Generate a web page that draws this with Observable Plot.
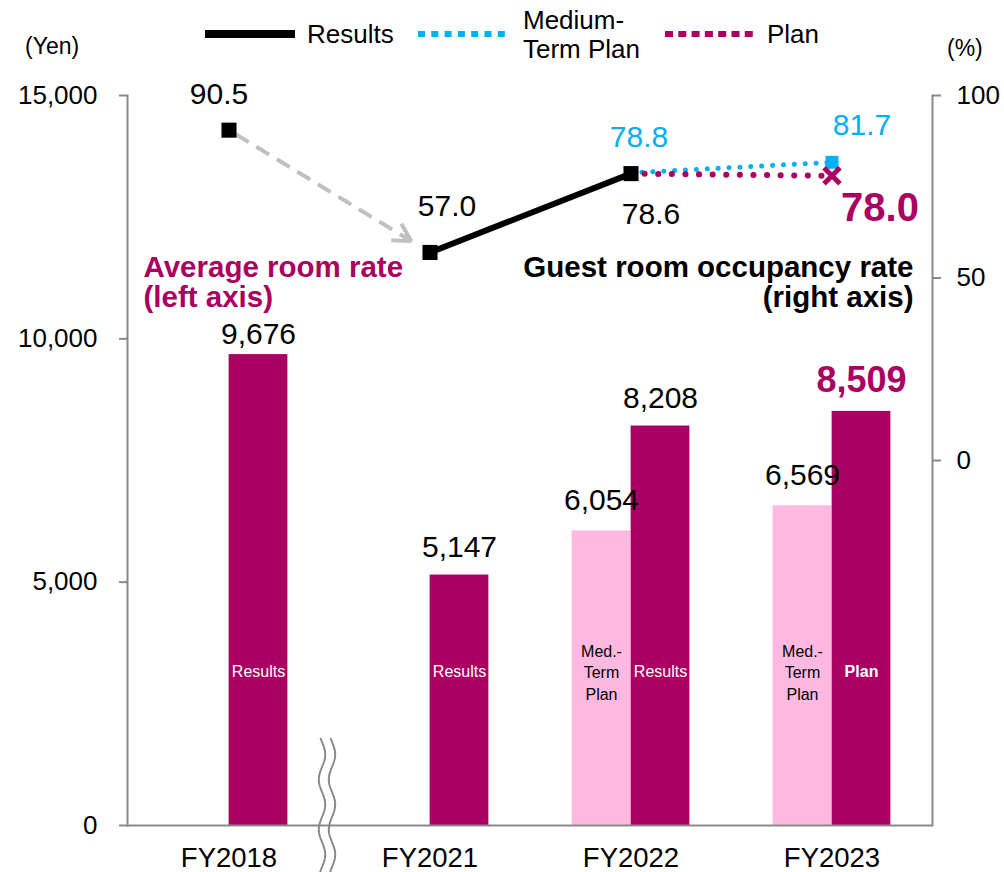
<!DOCTYPE html>
<html><head><meta charset="utf-8">
<script src="https://cdn.jsdelivr.net/npm/d3@7"></script>
<script src="https://cdn.jsdelivr.net/npm/@observablehq/plot@0.6"></script>
<style>
body{margin:0;background:#fff;font-family:"Liberation Sans",Arial,sans-serif;}
#wrap{position:relative;width:1004px;height:872px;overflow:hidden}
#wrap > svg{position:absolute;left:0;top:0}
</style></head><body><div id="wrap"></div>
<script>
// ---- data ----
const categories = ["FY2018", "FY2021", "FY2022", "FY2023"];
const roomRate = [9676, 5147, 8208, 8509];          // dark bars (Results, Results, Results, Plan)
const roomRateMedPlan = [null, null, 6054, 6569];   // pink bars (Medium-Term Plan)
const darkBarKind = ["Results", "Results", "Results", "Plan"];
const occResults = [90.5, 57.0, 78.6, null];
const occMedPlan = [null, null, 78.8, 81.7];
const occPlan = [null, null, 78.6, 78.0];
const leftTicks = [0, 5000, 10000, 15000];
const rightTicks = [0, 50, 100];
const yenDomain = [0, 15000];
const rightDomain = [-100, 100];

// ---- styles ----
const DARK = "#AA0061", PINK = "#FFB8E0", CYAN = "#00B0F0", GRAY = "#898989";
const FONT = "Liberation Sans, Arial, sans-serif";
const W = 1004, H = 872, ML = 127, MR = 72, MT = 95, MB = 47;
const BW = (W - ML - MR) / categories.length;  // band width
const BAR = 59;
const INS0 = 8, INS1 = 22;

const occToYen = v => yenDomain[0] + (v - rightDomain[0]) / (rightDomain[1] - rightDomain[0]) * (yenDomain[1] - yenDomain[0]);
const yenToOcc = y => rightDomain[0] + (y - yenDomain[0]) / (yenDomain[1] - yenDomain[0]) * (rightDomain[1] - rightDomain[0]);

const dark = categories.map((c, i) => ({cat: c, value: roomRate[i], kind: darkBarKind[i]}));
const pink = categories.map((c, i) => ({cat: c, value: roomRateMedPlan[i]})).filter(d => d.value != null);
const rowsOf = arr => categories.map((c, i) => ({cat: c, occ: arr[i], y: arr[i] == null ? null : occToYen(arr[i])})).filter(d => d.occ != null);
const res = rowsOf(occResults), med = rowsOf(occMedPlan), pln = rowsOf(occPlan);
const resSolid = res.filter(d => d.cat !== categories[0]);
const arrowRow = [{a: res[0].cat, ya: res[0].y, b: res[1].cat, yb: res[1].y}];
const f1 = d3.format(".1f"), fc = d3.format(",");

function build(shaftLen) {
  return {
    width: W, height: H, marginLeft: ML, marginRight: MR, marginTop: MT, marginBottom: MB,
    style: {fontFamily: FONT, color: "#000", background: "transparent"},
    x: {type: "band", domain: categories, padding: 0, axis: null},
    y: {domain: yenDomain, axis: null},
    marks: [
      Plot.barY(pink, {x: "cat", y: "value", fill: PINK, insetLeft: BW / 2 - BAR, insetRight: BW / 2}),
      Plot.barY(dark, {x: "cat", y: "value", fill: DARK, insetLeft: BW / 2, insetRight: BW / 2 - BAR}),
      Plot.ruleY([0], {stroke: GRAY, strokeWidth: 2}),
      Plot.frame({anchor: "left", stroke: GRAY, strokeWidth: 2}),
      Plot.frame({anchor: "right", stroke: GRAY, strokeWidth: 2}),
      Plot.axisY({anchor: "left", ticks: leftTicks, tickFormat: fc, tickSize: 8, tickPadding: 22, fontSize: 26, stroke: GRAY, strokeWidth: 2, fill: "#000", label: null}),
      Plot.axisY({anchor: "right", ticks: rightTicks.map(occToYen), tickFormat: d => Math.round(yenToOcc(d)), tickSize: 8, tickPadding: 16, fontSize: 26, stroke: GRAY, strokeWidth: 2, fill: "#000", label: null}),
      Plot.axisX({tickSize: 0, tickPadding: 22, fontSize: 27.5, fill: "#000", label: null}),
      // dashed arrow FY2018 -> FY2021 : dashed shaft + solid head
      Plot.arrow(arrowRow, {x1: "a", y1: "ya", x2: "b", y2: "yb", stroke: "#C0C0C0", strokeWidth: 4, strokeDasharray: "15,9", strokeLinecap: "butt", headLength: 0, insetStart: INS0, insetEnd: INS1}),
      Plot.arrow(arrowRow, {x1: "a", y1: "ya", x2: "b", y2: "yb", stroke: "#C0C0C0", strokeWidth: 4, strokeLinecap: "butt", strokeLinejoin: "miter", headLength: 7.5, headAngle: 58, insetStart: INS0 + Math.max(0, shaftLen - 1), insetEnd: INS1}),
      Plot.line(resSolid, {x: "cat", y: "y", stroke: "#000", strokeWidth: 6}),
      Plot.line(med, {x: "cat", y: "y", stroke: CYAN, strokeWidth: 5, strokeDasharray: "0.1,10.8", strokeLinecap: "round"}),
      Plot.line(pln, {x: "cat", y: "y", stroke: DARK, strokeWidth: 6, strokeDasharray: "0.1,13.5", strokeLinecap: "round"}),
      Plot.dot(res, {x: "cat", y: "y", symbol: "square", r: 8.5, fill: "#000"}),
      Plot.dot(med.slice(-1), {x: "cat", y: "y", symbol: "square", r: 7.3, fill: CYAN}),
      Plot.dot(pln.slice(-1), {x: "cat", y: "y", symbol: "times", r: 7.3, stroke: DARK, strokeWidth: 5}),
      // occupancy labels
      Plot.text(res.slice(0, 1), {x: "cat", y: "y", text: d => f1(d.occ), dx: -10, dy: -36, fontSize: 30, fill: "#000"}),
      Plot.text(res.slice(1, 2), {x: "cat", y: "y", text: d => f1(d.occ), dx: 17, dy: -46, fontSize: 30, fill: "#000"}),
      Plot.text(res.slice(2, 3), {x: "cat", y: "y", text: d => f1(d.occ), dx: 20, dy: 41, fontSize: 30, fill: "#000"}),
      Plot.text(med.slice(0, 1), {x: "cat", y: "y", text: d => f1(d.occ), dx: 8, dy: -35, fontSize: 30, fill: CYAN}),
      Plot.text(med.slice(1), {x: "cat", y: "y", text: d => f1(d.occ), dx: 30, dy: -37, fontSize: 30, fill: CYAN}),
      Plot.text(pln.slice(1), {x: "cat", y: "y", text: d => f1(d.occ), dx: 48, dy: 32, fontSize: 40, fontWeight: "bold", fill: DARK}),
      // bar value labels
      Plot.text(dark.slice(0, 1), {x: "cat", y: "value", text: d => fc(d.value), dx: BAR / 2, dy: -20, fontSize: 30, fill: "#000"}),
      Plot.text(dark.slice(1, 3), {x: "cat", y: "value", text: d => fc(d.value), dx: BAR / 2, dy: -28, fontSize: 30, fill: "#000"}),
      Plot.text(dark.slice(3), {x: "cat", y: "value", text: d => fc(d.value), dx: BAR / 2, dy: -31, fontSize: 36, fontWeight: "bold", fill: DARK}),
      Plot.text(pink, {x: "cat", y: "value", text: d => fc(d.value), dx: -BAR / 2, dy: -30, fontSize: 30, fill: "#000"}),
      // in-bar labels
      Plot.text(dark.filter(d => d.kind === "Results"), {x: "cat", text: "kind", frameAnchor: "bottom", lineAnchor: "middle", dy: -154, dx: BAR / 2, fontSize: 16, fill: "#fff"}),
      Plot.text(dark.filter(d => d.kind === "Plan"), {x: "cat", text: "kind", frameAnchor: "bottom", lineAnchor: "middle", dy: -154, dx: BAR / 2, fontSize: 16, fontWeight: "bold", fill: "#fff"}),
      Plot.text(pink, {x: "cat", text: () => "Med.-\nTerm\nPlan", frameAnchor: "bottom", lineAnchor: "middle", dy: -154, dx: -BAR / 2, fontSize: 16, lineHeight: 1.35, fill: "#000"}),
      // series annotations
      Plot.text(["Average room rate\n(left axis)"], {text: d => d, frameAnchor: "top-left", lineAnchor: "middle", dx: 16, dy: 187, textAnchor: "start", fontSize: 29.5, fontWeight: "bold", lineHeight: 1.02, fill: DARK}),
      Plot.text(["Guest room occupancy rate\n(right axis)"], {text: d => d, frameAnchor: "top-right", lineAnchor: "middle", dx: -19, dy: 187, textAnchor: "end", fontSize: 29.5, fontWeight: "bold", lineHeight: 1.02, fill: "#000"})
    ]
  };
}

// first pass to measure the arrow shaft length through the scales
const probe = Plot.plot(build(0));
const sx = probe.scale("x"), sy = probe.scale("y");
const ddx = (sx.apply(arrowRow[0].b) - sx.apply(arrowRow[0].a));
const ddy = (sy.apply(arrowRow[0].yb) - sy.apply(arrowRow[0].ya));
const shaft = Math.hypot(ddx, ddy) - INS0 - INS1;

const plot = Plot.plot(build(shaft));
const wrap = document.getElementById("wrap");
wrap.appendChild(plot);

// axis-break symbol between FY2018 and FY2021
const px = plot.scale("x"), py = plot.scale("y");
const boundary = px.apply(categories[1]);
const y0 = py.apply(0) - 87;
const gBreak = d3.select(plot).append("g").attr("fill", "none").attr("stroke", GRAY).attr("stroke-width", 2);
[-7, 3].forEach(off => {
  const pts = d3.range(y0, H + 1, 1).map(yy => [boundary + off + 3.2 * Math.sin(2 * Math.PI * (yy - y0 - 4) / 50), yy]);
  gBreak.append("path").attr("d", d3.line()(pts));
});

// legend and unit labels (above the plot area)
const leg = d3.select(wrap).append("svg").attr("width", W).attr("height", 70)
  .style("font-family", FONT).style("font-size", "26px");
leg.append("line").attr("x1", 205).attr("x2", 295).attr("y1", 34).attr("y2", 34).attr("stroke", "#000").attr("stroke-width", 8);
leg.append("text").attr("x", 307).attr("y", 43).text("Results");
leg.append("line").attr("x1", 418).attr("x2", 507).attr("y1", 34).attr("y2", 34).attr("stroke", CYAN).attr("stroke-width", 6).attr("stroke-dasharray", "7,6.3");
leg.append("text").attr("x", 523).attr("y", 29).text("Medium-");
leg.append("text").attr("x", 523).attr("y", 58).text("Term Plan");
leg.append("line").attr("x1", 665).attr("x2", 755).attr("y1", 34).attr("y2", 34).attr("stroke", DARK).attr("stroke-width", 6).attr("stroke-dasharray", "8,5.3");
leg.append("text").attr("x", 767).attr("y", 43).text("Plan");
leg.append("text").attr("x", 25).attr("y", 54).style("font-size", "23px").text("(Yen)");
leg.append("text").attr("x", 947).attr("y", 56).style("font-size", "23px").text("(%)");
</script></body></html>
